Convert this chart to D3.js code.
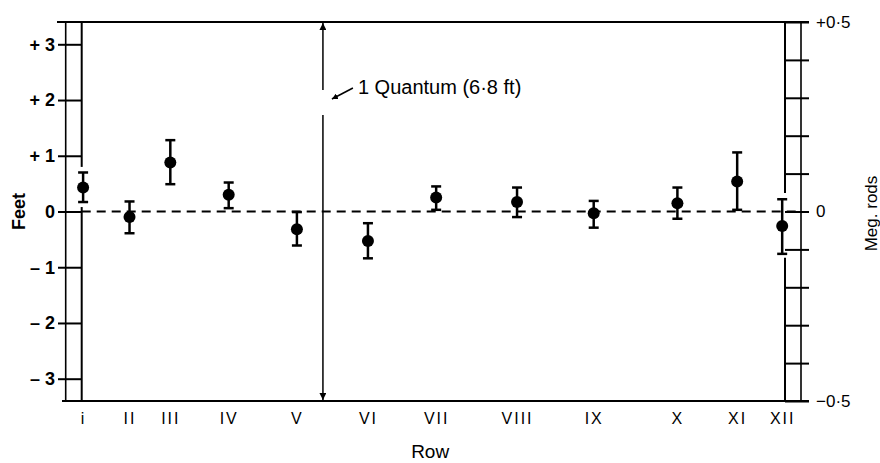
<!DOCTYPE html>
<html>
<head>
<meta charset="utf-8">
<script src="https://cdn.jsdelivr.net/npm/d3@7"></script>
<style>
  body { margin: 0; background: white; }
  svg { font-family: "Liberation Sans", Arial, sans-serif; }
</style>
</head>
<body>
<div id="chart"></div>
<script>
// rows along the site, position in % of the distance from row I to row XII
const rows = ["I", "II", "III", "IV", "V", "VI", "VII", "VIII", "IX", "X", "XI", "XII"];
const rowLabels = ["i", "II", "III", "IV", "V", "VI", "VII", "VIII", "IX", "X", "XI", "XII"];
const rowPos = [0.2, 6.8, 12.6, 20.9, 30.6, 40.7, 50.4, 61.9, 72.8, 84.7, 93.2, 99.6];
// deviation in feet: mean and error bar ends
const dev = [0.43, -0.10, 0.88, 0.30, -0.32, -0.53, 0.25, 0.17, -0.03, 0.15, 0.54, -0.26];
const devHigh = [0.70, 0.18, 1.28, 0.52, -0.01, -0.21, 0.45, 0.43, 0.19, 0.43, 1.06, 0.22];
const devLow = [0.17, -0.39, 0.49, 0.06, -0.61, -0.84, 0.03, -0.10, -0.29, -0.13, 0.03, -0.76];
const feetTicks = [-3, -2, -1, 0, 1, 2, 3];
const rodTicks = [-0.5, -0.4, -0.3, -0.2, -0.1, 0, 0.1, 0.2, 0.3, 0.4, 0.5];
const quantumPos = 34.3; // where the 1 quantum arrow stands

const width = 880, height = 463;
const svg = d3.select("#chart").append("svg")
  .attr("width", width)
  .attr("height", height);

// scales
const x = d3.scaleLinear().domain([0, 100]).range([81.7, 785]);
const y = d3.scaleLinear().domain([-3.4, 3.4]).range([401, 22]);
const yRod = d3.scaleLinear().domain([-0.5, 0.5]).range([401, 22]);

const outerL = x(0) - 16, outerR = x(100) + 16;

// frame: top and bottom lines
svg.append("line")
  .attr("x1", 57).attr("x2", 809)
  .attr("y1", y(3.4)).attr("y2", y(3.4))
  .attr("stroke", "black").attr("stroke-width", 2);
svg.append("line")
  .attr("x1", 62).attr("x2", 809)
  .attr("y1", y(-3.4)).attr("y2", y(-3.4))
  .attr("stroke", "black").attr("stroke-width", 2);

// outer vertical lines
[outerL, outerR].forEach(function(xx) {
  svg.append("line")
    .attr("x1", xx).attr("x2", xx)
    .attr("y1", y(3.4)).attr("y2", y(-3.4))
    .attr("stroke", "black").attr("stroke-width", 1.6);
});

// inner vertical lines, broken round the end points
const innerSegs = [
  [x(0), 3.4, 0.8], [x(0), 0.08, -3.4],
  [x(100), 3.4, 0.33], [x(100), -0.83, -3.4]
];
innerSegs.forEach(function(s) {
  svg.append("line")
    .attr("x1", s[0]).attr("x2", s[0])
    .attr("y1", y(s[1])).attr("y2", y(s[2]))
    .attr("stroke", "black").attr("stroke-width", 2);
});

// left axis (feet)
const leftAxis = svg.append("g")
  .attr("transform", "translate(" + x(0) + ",0)")
  .call(d3.axisLeft(y).tickValues(feetTicks).tickSize(x(0) - 58).tickPadding(3)
    .tickFormat(function(d) { return d > 0 ? "+ " + d : d < 0 ? "\u2013 " + (-d) : "0"; }));
leftAxis.select(".domain").remove();
leftAxis.selectAll(".tick line").attr("stroke", "black").attr("stroke-width", 2);
leftAxis.selectAll(".tick text")
  .attr("fill", "black")
  .style("font-size", "18px")
  .style("font-weight", "bold");

// right axis (megalithic rods)
const rightAxis = svg.append("g")
  .attr("transform", "translate(" + x(100) + ",0)")
  .call(d3.axisRight(yRod).tickValues(rodTicks).tickSize(809 - x(100)).tickPadding(7)
    .tickFormat(function(d) {
      if (d === 0.5) return "+0\u00b75";
      if (d === -0.5) return "\u22120\u00b75";
      if (d === 0) return "0";
      return "";
    }));
rightAxis.select(".domain").remove();
rightAxis.selectAll(".tick line").attr("stroke", "black").attr("stroke-width", 2);
rightAxis.selectAll(".tick text")
  .attr("fill", "black")
  .style("font-size", "17px");

// bottom axis (rows)
const bottomAxis = svg.append("g")
  .attr("transform", "translate(0," + y(-3.4) + ")")
  .call(d3.axisBottom(x).tickValues(rowPos).tickSize(0).tickPadding(12)
    .tickFormat(function(d, i) { return rowLabels[i]; }));
bottomAxis.select(".domain").remove();
bottomAxis.selectAll(".tick text")
  .attr("fill", "black")
  .style("font-size", "16px")
  .style("letter-spacing", "2px");

// zero line
svg.append("line")
  .attr("x1", x(0)).attr("x2", outerR)
  .attr("y1", y(0)).attr("y2", y(0))
  .attr("stroke", "black").attr("stroke-width", 1.8)
  .attr("stroke-dasharray", "9,6");

// quantum arrow
const defs = svg.append("defs");
defs.append("marker")
  .attr("id", "head")
  .attr("viewBox", "0 0 10 10")
  .attr("refX", 10).attr("refY", 5)
  .attr("markerWidth", 6).attr("markerHeight", 6)
  .attr("markerUnits", "userSpaceOnUse")
  .attr("orient", "auto")
  .append("path")
  .attr("d", "M0,0 L10,5 L0,10 z")
  .attr("fill", "black");

defs.append("marker")
  .attr("id", "bighead")
  .attr("viewBox", "0 0 10 10")
  .attr("refX", 10).attr("refY", 5)
  .attr("markerWidth", 14).attr("markerHeight", 7)
  .attr("markerUnits", "userSpaceOnUse")
  .attr("orient", "auto")
  .append("path")
  .attr("d", "M0,0 L10,5 L0,10 z")
  .attr("fill", "black");

svg.append("line")
  .attr("x1", x(quantumPos)).attr("x2", x(quantumPos))
  .attr("y1", 90).attr("y2", y(3.4) + 1)
  .attr("stroke", "black").attr("stroke-width", 1.5)
  .attr("marker-end", "url(#bighead)");
svg.append("line")
  .attr("x1", x(quantumPos)).attr("x2", x(quantumPos))
  .attr("y1", 115).attr("y2", y(-3.4) - 1)
  .attr("stroke", "black").attr("stroke-width", 1.5)
  .attr("marker-end", "url(#bighead)");

svg.append("line")
  .attr("x1", x(quantumPos) + 30).attr("x2", x(quantumPos) + 9)
  .attr("y1", 88).attr("y2", 99)
  .attr("stroke", "black").attr("stroke-width", 1.5)
  .attr("marker-end", "url(#head)");

svg.append("text")
  .attr("x", x(quantumPos) + 35)
  .attr("y", 94)
  .style("font-size", "20px")
  .text("1 Quantum (6\u00b78 ft)");

// error bars and points
const pts = svg.append("g");
rows.forEach(function(r, i) {
  const cx = x(rowPos[i]);
  pts.append("line")
    .attr("x1", cx).attr("x2", cx)
    .attr("y1", y(devHigh[i])).attr("y2", y(devLow[i]))
    .attr("stroke", "black").attr("stroke-width", 2.5);
  [devHigh[i], devLow[i]].forEach(function(v) {
    pts.append("line")
      .attr("x1", cx - 5).attr("x2", cx + 5)
      .attr("y1", y(v)).attr("y2", y(v))
      .attr("stroke", "black").attr("stroke-width", 2.5);
  });
  pts.append("circle")
    .attr("cx", cx).attr("cy", y(dev[i]))
    .attr("r", 6)
    .attr("fill", "black");
});

// axis titles
svg.append("text")
  .attr("transform", "translate(25," + y(0) + ") rotate(-90)")
  .attr("text-anchor", "middle")
  .style("font-size", "18px")
  .style("font-weight", "bold")
  .text("Feet");

svg.append("text")
  .attr("transform", "translate(877," + (y(0) + 2) + ") rotate(-90)")
  .attr("text-anchor", "middle")
  .style("font-size", "17px")
  .text("Meg. rods");

svg.append("text")
  .attr("x", x(50.4) - 6)
  .attr("y", 458)
  .attr("text-anchor", "middle")
  .style("font-size", "19px")
  .text("Row");
</script>
</body>
</html>
